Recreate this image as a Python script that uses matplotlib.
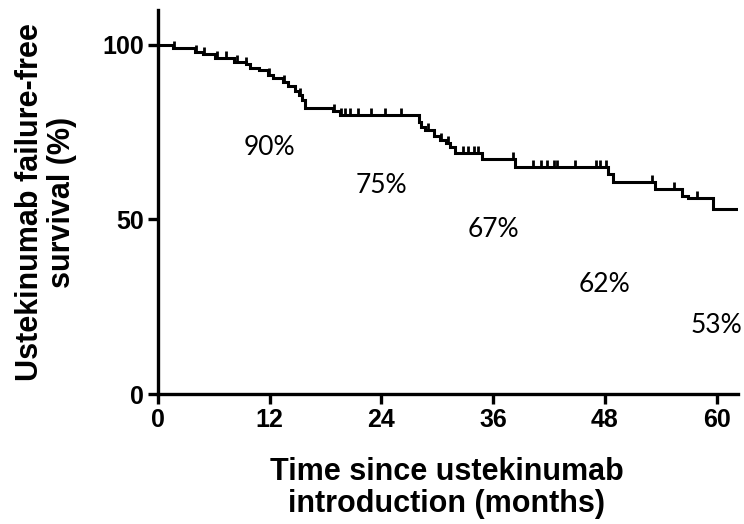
import numpy as np
import matplotlib
matplotlib.use("Agg")
import matplotlib.pyplot as plt
from matplotlib.ticker import FixedLocator

# Kaplan-Meier step data (months, survival %)
event_times = [0.0, 1.6, 4.0, 4.8, 6.1, 8.2, 9.4, 9.9, 10.8, 11.8, 12.3, 13.4, 14.0,
               14.7, 15.1, 15.5, 15.8, 18.8, 19.6, 28.0, 28.3, 28.7, 29.6, 30.3,
               30.9, 31.4, 31.9, 34.8, 38.4, 48.3, 48.9, 53.4, 56.3, 56.9, 59.6]
survival = [100.0, 99.1, 98.1, 97.3, 96.2, 95.2, 94.6, 93.4, 92.8, 91.3, 90.5, 89.4, 88.3,
            86.8, 85.7, 84.2, 81.8, 81.1, 79.9, 77.9, 76.5, 75.6, 73.9, 72.8,
            71.9, 70.8, 69.1, 67.3, 65.0, 63.0, 60.7, 58.7, 56.7, 56.2, 52.9]
end_time = 62.3

censor_times = [1.7, 4.1, 4.9, 6.3, 7.3, 8.5, 9.5, 11.9, 13.5, 15.3,
                18.9, 19.7, 20.1, 20.6, 21.5, 22.9, 24.4, 26.1,
                29.0, 30.4, 31.2, 32.8, 33.3, 33.9, 34.4, 38.1, 40.3, 41.1,
                41.8, 42.5, 42.9, 44.8, 47.0, 47.5, 48.1, 53.1, 55.4, 57.9]

label_times = [12, 24, 36, 48, 60]
label_values = [70.5, 59.6, 47.0, 31.5, 19.5]
label_texts = ["90%", "75%", "67%", "62%", "53%"]

x_ticks = [0, 12, 24, 36, 48, 60]
y_ticks = [0, 50, 100]

fig = plt.figure(figsize=(7.44, 5.24), dpi=100)
ax = fig.add_axes([158/744, 1-394/524, (738-158)/744, (394-10)/524])

xs = list(event_times) + [end_time]
ys = list(survival) + [survival[-1]]
ax.step(xs, ys, where='post', color='black', lw=2.2, solid_joinstyle='miter')

# censor marks
et = np.array(event_times)
sv = np.array(survival)
cy = [sv[np.searchsorted(et, t, side='right') - 1] for t in censor_times]
ax.plot(censor_times, cy, linestyle='none', marker=[(0, 0), (0, 1)],
        markersize=10, markeredgewidth=2.0, color='black')

for t, v, s in zip(label_times, label_values, label_texts):
    ax.text(t, v, s, ha='center', va='center', fontsize=19, family='Lato')

ax.set_xlim(0, end_time)
ax.set_ylim(0, 110)
ax.xaxis.set_major_locator(FixedLocator(x_ticks))
ax.yaxis.set_major_locator(FixedLocator(y_ticks))
for side in ['top', 'right']:
    ax.spines[side].set_visible(False)
for side in ['left', 'bottom']:
    ax.spines[side].set_linewidth(2.4)
ax.tick_params(width=2.4, length=7, direction='out', labelsize=18, pad=3)
for lab in ax.get_xticklabels() + ax.get_yticklabels():
    lab.set_fontfamily('Liberation Sans')
    lab.set_fontweight('bold')

fig.text(447/744, 1-488/524, "Time since ustekinumab\nintroduction (months)",
         ha='center', va='center', fontsize=22, fontweight='bold',
         family='Liberation Sans', linespacing=1.1)
fig.text(46/744, 1-202/524, "Ustekinumab failure-free\nsurvival (%)",
         ha='center', va='center', rotation=90, fontsize=22, fontweight='bold',
         family='Liberation Sans', linespacing=1.1)

fig.savefig("out.png", dpi=100)
